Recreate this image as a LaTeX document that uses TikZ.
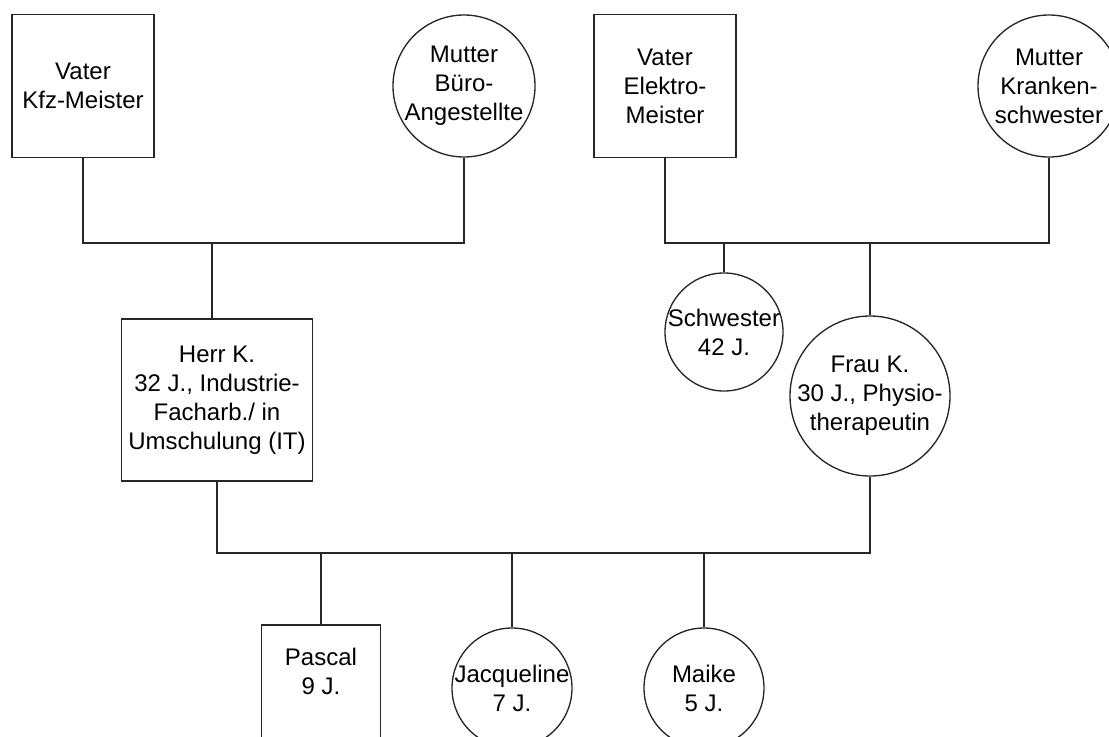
\documentclass[tikz,border=0pt]{standalone}
\usepackage{fontspec}
\setmainfont{Liberation Sans}
\usepackage{tikz}

\begin{document}
\begin{tikzpicture}[x=0.75pt, y=-0.75pt, line width=1pt,
  mann/.style={draw=black!85, rectangle, inner sep=0pt, align=center, font=\fontsize{18}{21.75}\selectfont},
  frau/.style={draw=black!85, circle, inner sep=0pt},
  txt/.style={align=center, inner sep=0pt, font=\fontsize{18}{21.75}\selectfont}]
\clip (0,0) rectangle (1109,736);
% Grosseltern
\node[mann, minimum width=106.5pt, minimum height=107pt] (vaterA) at (83,86) {Vater\\Kfz-Meister};
\node[frau, minimum size=106.5pt, label={[txt]center:{Mutter\\Büro-\\Angestellte}}] (mutterA) at (464,86) {};
\node[mann, minimum width=106.5pt, minimum height=107pt] (vaterB) at (665,86) {Vater\\Elektro-\\Meister};
\node[frau, minimum size=106.5pt, label={[txt]center:{Mutter\\Kranken-\\schwester}}] (mutterB) at (1049,86) {};
% Eltern
\node[mann, minimum width=143pt, minimum height=121.5pt] (herr) at (217,400) {Herr K.\\32 J., Industrie-\\Facharb./ in\\Umschulung (IT)};
\node[frau, minimum size=88.5pt, label={[txt]center:{Schwester\\42 J.}}] (schwester) at (724,332) {};
\node[frau, minimum size=120pt, label={[txt]center:{Frau K.\\30 J., Physio-\\therapeutin}}] (frau) at (870,396) {};
% Kinder
\node[frau, draw=none, rectangle, minimum width=88.5pt, minimum height=101pt, anchor=north,
  label={[txt, anchor=north, yshift=-17pt]north:{Pascal\\9 J.}}] (pascal) at (321,625) {};
\draw[black!85] (pascal.south west) -- (pascal.north west) -- (pascal.north east) -- (pascal.south east);
\node[frau, minimum size=90pt, label={[txt]center:{Jacqueline\\7 J.}}] (jacqueline) at (512,688) {};
\node[frau, minimum size=90pt, label={[txt]center:{Maike\\5 J.}}] (maike) at (704,688) {};
% Linien
\coordinate (eheA) at (212,243);
\coordinate (eheB) at (870,243);
\coordinate (eheC) at (512,553);
\draw[black!85] (vaterA.south) |- (eheA) -| (mutterA.south);
\draw[black!85] (eheA) -- (eheA |- herr.north);
\draw[black!85] (vaterB.south) |- (eheB) -| (mutterB.south);
\draw[black!85] (schwester.north) -- (schwester.north |- eheB);
\draw[black!85] (eheB) -- (frau.north);
\draw[black!85] (herr.south) |- (eheC) -| (frau.south);
\draw[black!85] (pascal.north) -- (pascal.north |- eheC);
\draw[black!85] (jacqueline.north) -- (jacqueline.north |- eheC);
\draw[black!85] (maike.north) -- (maike.north |- eheC);
\end{tikzpicture}
\end{document}
